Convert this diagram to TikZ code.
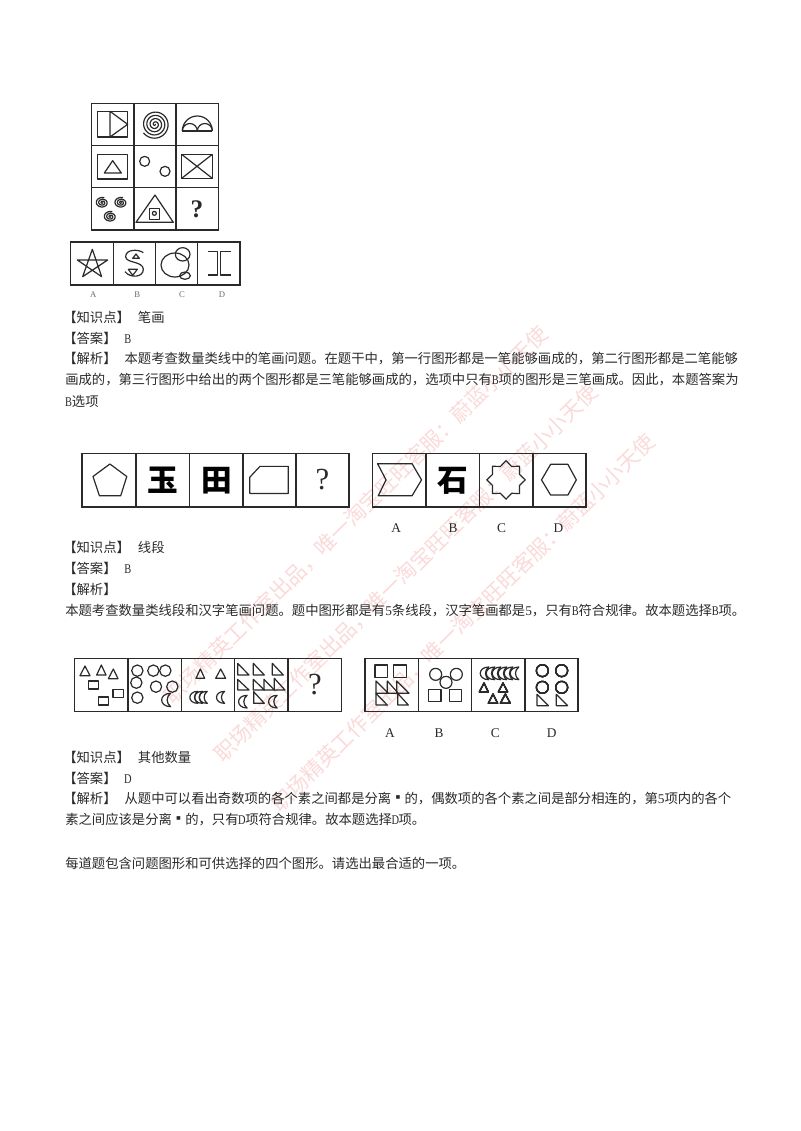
\documentclass[tikz,border=0pt]{standalone}
\usepackage{fontspec}
\setmainfont{Noto Sans CJK SC}
\newfontfamily\ltnfont{Liberation Serif}
\newcommand{\ltn}[1]{\makebox[0.5em]{\scalebox{0.78}[1]{\ltnfont #1}}}
\newcommand{\dgt}[1]{{\ltnfont #1}}
\newcommand{\gapb}{\hspace{3.75pt}}
\newcommand{\sqdot}{\makebox[1em]{\raisebox{0.12em}{▪}}}
\definecolor{ink}{HTML}{2A2A2A}
\definecolor{wmark}{HTML}{FBDADA}
\newcommand{\crescent}[3]{\draw[fig] (#1+0.6*#3,#2-#3) .. controls (#1-1.2*#3,#2-#3) and (#1-1.2*#3,#2+#3) .. (#1+0.6*#3,#2+#3) .. controls (#1-0.1*#3,#2+0.5*#3) and (#1-0.1*#3,#2-0.5*#3) .. cycle;}
\newcommand{\swirl}[5]{\draw[fig] plot[domain=0:1,samples=180,smooth] ({#1+#3*\x*cos(360*#5*\x)},{#2+#4*\x*sin(360*#5*\x)});}
\newcommand{\tri}[6]{\draw[fig] (#1,#2) -- (#3,#4) -- (#5,#6) -- cycle;}
\tikzset{
  fig/.style={draw=ink,line width=0.9pt,line join=round},
  frame/.style={draw=ink,line width=1.2pt},
  body/.style={anchor=west,inner sep=0pt,text=ink,font=\fontsize{10}{12}\selectfont},
  wm/.style={rotate=44.5,text=wmark,inner sep=0pt,font=\fontsize{15.8}{18}\selectfont},
  optlabel/.style={inner sep=0pt,text=ink,font=\ltnfont\fontsize{10}{12}\selectfont},
  tinylabel/.style={inner sep=0pt,text=ink!70,font=\ltnfont\fontsize{6.5}{8}\selectfont},
  qmark/.style={inner sep=0pt,text=ink,font=\ltnfont\bfseries\fontsize{19}{22}\selectfont},
  glyph/.style={inner sep=0pt,text=black,font=\bfseries\fontsize{23}{25}\selectfont},
  panel/.style={x=0.25pt,y=-0.25pt},
  panelb/.style={x=0.2535pt,y=-0.2535pt}
}
\begin{document}
\begin{tikzpicture}[x=0.75pt,y=-0.75pt]
\useasboundingbox (0,0) rectangle (800,1131);
\fill[white] (0,0) rectangle (800,1131);
% watermark
\node[wm] (wa) at (356,515) {职场精英工作室出品，唯一淘宝旺旺客服：蔚蓝小小天使};
\node[wm] (wb) at (406,573) {职场精英工作室出品，唯一淘宝旺旺客服：蔚蓝小小天使};
\node[wm] (wc) at (463,623) {职场精英工作室出品，唯一淘宝旺旺客服：蔚蓝小小天使};
% panel 1
\begin{scope}[shift={(60,95)},panel]
\draw[frame] (95,25) rectangle (475,405);
\draw[frame] (222,25) -- (222,405) (348,25) -- (348,405) (95,152) -- (475,152) (95,278) -- (475,278);
\draw[fig] (113,49) rectangle (203,126);
\tri{150}{49}{150}{126}{203}{88}
\swirl{285}{88}{43}{43}{4.4}
\draw[fig] (367,108) arc[start angle=180,end angle=360,radius=45];
\draw[fig] (367,108) arc[start angle=180,end angle=360,radius=22.5];
\draw[fig] (412,108) arc[start angle=180,end angle=360,radius=22.5];
\draw[fig,line width=1.2pt] (367,108) -- (457,108);
\draw[fig] (112,178) rectangle (203,252);
\tri{133}{234}{184}{234}{158}{197}
\draw[fig] (254,199) circle[radius=15];
\draw[fig] (315,229) circle[radius=15];
\draw[fig] (365,178) rectangle (457,250);
\draw[fig] (365,178) -- (457,250) (365,250) -- (457,178);
\swirl{127}{323}{20}{16}{2.8}
\swirl{183}{323}{20}{16}{2.8}
\swirl{151}{365}{20}{16}{2.8}
\tri{285}{300}{228}{382}{340}{382}
\draw[fig] (269,340) rectangle (298,373);
\draw[fig] (283,355) circle[radius=6];
\node[qmark] (q1) at (411,343) {?};
\draw[frame] (32,441) rectangle (540,570);
\draw[frame] (160,441) -- (160,570) (287,441) -- (287,570) (413,441) -- (413,570);
\draw[fig] (97,463) -- (125,545) -- (52,495) -- (143,495) -- (68,545) -- cycle;
\draw[fig] (250,473) .. controls (235,462) and (197,462) .. (197,485) .. controls (197,505) and (250,498) .. (250,523) .. controls (250,548) and (210,550) .. (195,530);
\tri{228}{477}{218}{490}{238}{490}
\tri{205}{523}{232}{523}{218}{541}
\draw[fig] (345,510) ellipse[x radius=42,y radius=36];
\draw[fig] (368,478) ellipse[x radius=22,y radius=20];
\draw[fig] (375,542) ellipse[x radius=16,y radius=11];
\draw[fig] (443,470) -- (472,470) -- (472,540) -- (443,540);
\draw[fig] (512,470) -- (482,470) -- (482,540) -- (512,540);
\node[tinylabel] (a1) at (100,600) {A};
\node[tinylabel] (b1) at (232,600) {B};
\node[tinylabel] (c1) at (366,600) {C};
\node[tinylabel] (d1) at (486,600) {D};
\end{scope}
% text 1
\node[body] (t1) at (63,317) {【知识点】 \gapb 笔画};
\node[body] (t2) at (63,338) {【答案】 \gapb\ltn{B}};
\node[body] (t3) at (63,359) {【解析】 \gapb 本题考查数量类线中的笔画问题。在题干中，第一行图形都是一笔能够画成的，第二行图形都是二笔能够};
\node[body] (t4) at (65,380) {画成的，第三行图形中给出的两个图形都是三笔能够画成的，选项中只有\ltn{B}项的图形是三笔画成。因此，本题答案为};
\node[body] (t5) at (65,401) {\ltn{B}选项};
% panel 2
\begin{scope}[shift={(70,440)},panelb]
\draw[frame] (36,40) rectangle (825,199);
\draw[frame] (195,40) -- (195,199) (354,40) -- (354,199) (511,40) -- (511,199) (668,40) -- (668,199);
\draw[fig] (118,71) -- (168,108) -- (150,165) -- (87,165) -- (68,108) -- cycle;
\node[glyph] (g1) at (275,120) {玉};
\node[glyph] (g2) at (433,120) {田};
\draw[fig] (532,158) -- (532,110) -- (562,78) -- (646,78) -- (646,158) -- cycle;
\node[qmark,font=\ltnfont\fontsize{23}{25}\selectfont] (q2) at (747,118) {?};
\draw[frame] (895,40) rectangle (1526,199);
\draw[frame] (1054,40) -- (1054,199) (1212,40) -- (1212,199) (1370,40) -- (1370,199);
\draw[fig] (910,70) -- (1012,70) -- (1040,118) -- (1012,165) -- (912,165) -- (935,118) -- cycle;
\node[glyph] (g3) at (1133,120) {石};
\draw[fig] plot[samples at={0,22.5,...,337.5}] ({1290+(50+7*cos(8*\x))*cos(\x)},{118+(50+7*cos(8*\x))*sin(\x)}) -- cycle;
\draw[fig] (1395,118) -- (1422,72) -- (1473,72) -- (1498,118) -- (1473,163) -- (1422,163) -- cycle;
\node[optlabel] (a2) at (965,262) {A};
\node[optlabel] (b2) at (1133,262) {B};
\node[optlabel] (c2) at (1277,262) {C};
\node[optlabel] (d2) at (1445,262) {D};
\end{scope}
% text 2
\node[body] (t6) at (63,547) {【知识点】 \gapb 线段};
\node[body] (t7) at (63,568) {【答案】 \gapb\ltn{B}};
\node[body] (t8) at (63,589) {【解析】};
\node[body] (t9) at (65,611) {本题考查数量类线段和汉字笔画问题。题中图形都是有\dgt{5}条线段，汉字笔画都是\dgt{5}，只有\ltn{B}符合规律。故本题选择\ltn{B}项。};
% panel 3
\begin{scope}[shift={(65,645)},panel]
\draw[frame] (28,40) rectangle (829,200);
\draw[frame] (189,40) -- (189,200) (349,40) -- (349,200) (509,40) -- (509,200) (669,40) -- (669,200);
\tri{45}{92}{75}{92}{60}{63}
\tri{95}{90}{123}{90}{109}{60}
\tri{130}{101}{159}{101}{145}{72}
\draw[fig] (70,108) rectangle (101,132);
\draw[fig] (100,156) rectangle (130,180);
\draw[fig] (144,134) rectangle (175,158);
\foreach \p/\q in {217/77,265/77,301/77,214/113,273/125,322/125,217/158} \draw[fig] (\p,\q) circle[radius=17];
\crescent{305}{165}{20}
\tri{393}{100}{419}{100}{406}{72}
\tri{452}{100}{482}{100}{467}{72}
\crescent{388}{157}{18}
\crescent{402}{157}{18}
\crescent{416}{157}{18}
\crescent{468}{157}{18}
\tri{518}{55}{518}{90}{552}{90}
\tri{565}{55}{565}{90}{598}{90}
\tri{622}{55}{622}{90}{655}{90}
\tri{518}{103}{518}{135}{552}{135}
\tri{565}{103}{565}{135}{598}{135}
\tri{597}{103}{597}{135}{628}{135}
\tri{628}{100}{628}{135}{660}{135}
\tri{566}{140}{566}{175}{598}{175}
\crescent{535}{170}{19}
\crescent{625}{170}{19}
\node[qmark,font=\ltnfont\fontsize{23}{25}\selectfont] (q3) at (750,120) {?};
\end{scope}
% panel 4
\begin{scope}[shift={(355,645)},panel]
\draw[frame] (30,40) rectangle (669,200);
\draw[frame] (190,40) -- (190,200) (350,40) -- (350,200) (510,40) -- (510,200);
\draw[fig] (60,60) rectangle (98,97);
\draw[fig] (116,60) rectangle (154,97);
\tri{63}{108}{63}{145}{100}{145}
\tri{97}{108}{97}{145}{130}{145}
\tri{125}{108}{125}{145}{162}{145}
\tri{63}{145}{63}{180}{97}{180}
\tri{128}{145}{128}{180}{160}{180}
\foreach \p/\q in {242/88,304/88,273/112} \draw[fig] (\p,\q) circle[radius=18];
\draw[fig] (220,133) rectangle (258,170);
\draw[fig] (283,133) rectangle (320,170);
\foreach \p in {390,408,426,444,462,480} \crescent{\p}{85}{19}
\tri{373}{141}{400}{141}{387}{114}
\tri{430}{141}{458}{141}{444}{114}
\tri{400}{175}{428}{175}{414}{147}
\tri{436}{175}{466}{175}{451}{147}
\foreach \p/\q in {562/77,620/77,562/127,620/127} \draw[fig] (\p,\q) circle[radius=18];
\tri{546}{148}{546}{182}{580}{182}
\tri{604}{148}{604}{182}{638}{182}
\node[optlabel] (a3) at (105,265) {A};
\node[optlabel] (b3) at (252,265) {B};
\node[optlabel] (c3) at (421,265) {C};
\node[optlabel] (d3) at (590,265) {D};
\end{scope}
% text 3
\node[body] (t10) at (63,757) {【知识点】 \gapb 其他数量};
\node[body] (t11) at (63,778) {【答案】 \gapb\ltn{D}};
\node[body] (t12) at (63,799) {【解析】 \gapb 从题中可以看出奇数项的各个素之间都是分离\sqdot 的，偶数项的各个素之间是部分相连的，第\dgt{5}项内的各个};
\node[body] (t13) at (65,820) {素之间应该是分离\sqdot 的，只有\ltn{D}项符合规律。故本题选择\ltn{D}项。};
\node[body] (t14) at (65,863) {每道题包含问题图形和可供选择的四个图形。请选出最合适的一项。};
\end{tikzpicture}
\end{document}
